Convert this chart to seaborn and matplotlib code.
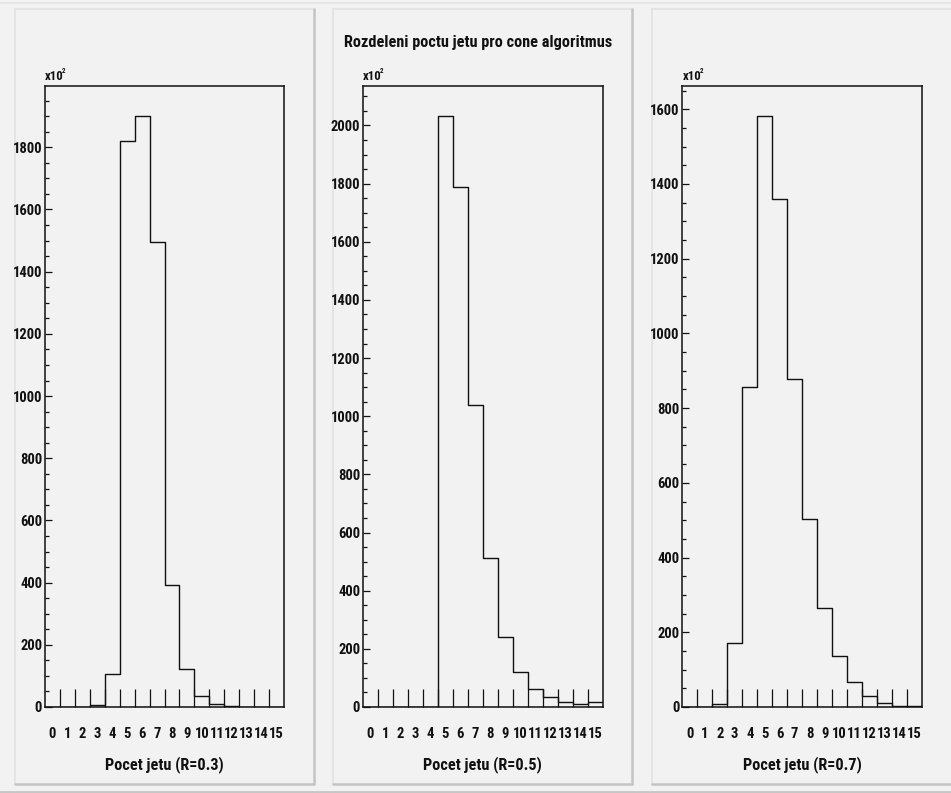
import numpy as np
import pandas as pd
import matplotlib
matplotlib.use("Agg")
import matplotlib.pyplot as plt
from matplotlib.lines import Line2D
from matplotlib.ticker import FixedLocator, MultipleLocator, NullFormatter
import seaborn as sns

# ---------------- data (counts in units of 10^2) ----------------
bins = list(range(16))
counts_r03 = [0, 0, 0, 5, 106, 1820, 1902, 1496, 392, 123, 35, 9, 3, 1, 0, 0]
counts_r05 = [0, 0, 0, 0, 0, 2034, 1790, 1040, 514, 242, 120, 62, 33, 18, 11, 18]
counts_r07 = [0, 0, 7, 170, 856, 1583, 1360, 878, 502, 264, 137, 67, 30, 12, 4, 2]
panel_series = [counts_r03, counts_r05, counts_r07]
xlabels = ["Pocet jetu (R=0.3)", "Pocet jetu (R=0.5)", "Pocet jetu (R=0.7)"]
ymax_ticks = [1800, 2000, 1600]
title = "Rozdeleni poctu jetu pro cone algoritmus"
tick_labels = [str(b) for b in bins]

sns.set_theme(style="white")
FAM = ["Liberation Sans Narrow", "Roboto Condensed", "Archivo Narrow", "Liberation Sans", "DejaVu Sans"]
plt.rcParams["font.family"] = FAM
plt.rcParams["font.weight"] = "bold"

W, H = 951, 793
BG = "#f2f2f2"
fig = plt.figure(figsize=(W / 100, H / 100), dpi=100, facecolor=BG)
PX = 72 / 100  # points per pixel


def fx(px):
    return px / W


def fy(py):
    return 1 - py / H


def fline(xs, ys, color, lw):
    fig.add_artist(Line2D(xs, ys, transform=fig.transFigure, color=color, lw=lw, zorder=-5))


# canvas borders
fline([0, 1], [fy(2.5), fy(2.5)], "#e4e4e4", 1.2)
fline([0, 1], [fy(791.5), fy(791.5)], "#c6c6c6", 2)

# pads
pads = [(15, 314), (333, 632), (652, 960)]
for (l, r) in pads:
    t, b = 9, 783.5
    fline([fx(l), fx(l)], [fy(t), fy(b)], "#e2e2e2", 1.2)
    fline([fx(l), fx(r)], [fy(t), fy(t)], "#e2e2e2", 1.2)
    fline([fx(r), fx(r)], [fy(t), fy(b)], "#c4c4c4", 1.8)
    fline([fx(l), fx(r)], [fy(b), fy(b)], "#c4c4c4", 1.8)

frames = [(45, 284), (363, 602.5), (682.3, 922)]
top_px, bot_px = 86, 707
edges = [float(e) for e in range(17)]
centres = [b + 0.5 for b in bins]

for i, ((l, r), counts) in enumerate(zip(frames, panel_series)):
    ax = fig.add_axes([fx(l), fy(bot_px), fx(r) - fx(l), (bot_px - top_px) / H])
    ax.set_facecolor(BG)
    df = pd.DataFrame({"bin": centres, "n": [float(c) for c in counts]})
    sns.histplot(data=df, x="bin", weights="n", bins=edges, element="step",
                 fill=False, color="#111111", linewidth=1.0, ax=ax)
    ax.set_xlim(0, 16)
    ax.set_ylim(0, max(counts) * 1.05)
    for s in ax.spines.values():
        s.set_color("#111111")
        s.set_linewidth(1.1)
        s.set_visible(True)
    # x ticks: long ticks at bin edges, labels at bin centres
    ax.xaxis.set_major_locator(FixedLocator(edges[1:-1]))
    ax.xaxis.set_major_formatter(NullFormatter())
    ax.set_xticks(centres, minor=True)
    ax.set_xticklabels(tick_labels, minor=True)
    ax.tick_params(axis="x", which="major", direction="in", length=17.7 * PX, width=0.9,
                   color="#111111", bottom=True, top=False)
    ax.tick_params(axis="x", which="minor", length=0, pad=14.5, labelsize=10.5,
                   labelcolor="#111111")
    # y ticks
    ax.yaxis.set_major_locator(FixedLocator(list(range(0, ymax_ticks[i] + 1, 200))))
    ax.yaxis.set_minor_locator(MultipleLocator(50))
    ax.tick_params(axis="y", which="major", direction="in", length=7 * PX, width=0.9,
                   color="#111111", left=True, right=False, pad=2, labelsize=10.5,
                   labelcolor="#111111")
    ax.tick_params(axis="y", which="minor", direction="in", length=3.5 * PX, width=0.9,
                   color="#111111", left=True, right=False)
    for lab in ax.get_yticklabels() + ax.get_xticklabels(minor=True):
        lab.set_fontweight("bold")
    ax.set_ylabel("")
    ax.set_xlabel(xlabels[i], fontsize=11.7, fontweight="bold", color="#111111", labelpad=10.5)
    ax.text(0, 1.005, "x10", transform=ax.transAxes, ha="left", va="bottom",
            fontsize=9.2, fontweight="bold", color="#111111")
    ax.text(0.071, 1.017, "2", transform=ax.transAxes, ha="left", va="bottom",
            fontsize=5, fontweight="bold", color="#111111")
    ax.grid(False)

fig.text(fx(478.5), fy(42), title, ha="center", va="center", fontsize=11.7,
         fontweight="bold", color="#111111")

fig.savefig("out.png", dpi=100, facecolor=BG)
